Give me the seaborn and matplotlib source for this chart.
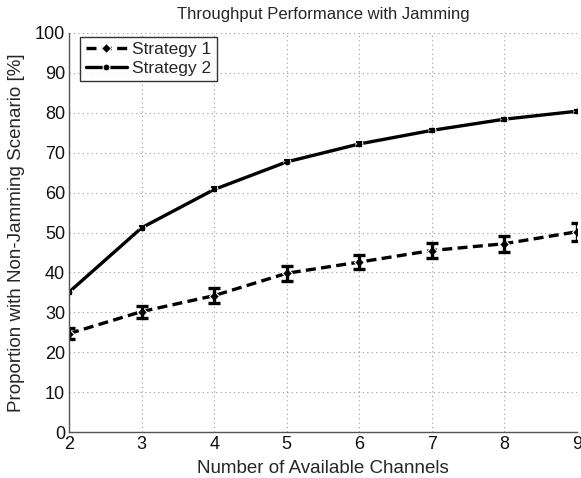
import matplotlib
matplotlib.use("Agg")
import matplotlib.pyplot as plt
import seaborn as sns
import pandas as pd

channels = [2, 3, 4, 5, 6, 7, 8, 9]
strategy1 = [24.7, 30.2, 34.2, 39.8, 42.6, 45.5, 47.2, 50.2]
strategy1_err = [1.3, 1.5, 1.8, 1.9, 1.8, 2.0, 2.0, 2.2]
strategy2 = [35.1, 51.2, 60.8, 67.7, 72.2, 75.6, 78.4, 80.4]
strategy2_err = [0.4, 0.5, 0.5, 0.4, 0.4, 0.4, 0.4, 0.4]
x_ticks = list(range(2, 10))
y_ticks = list(range(0, 101, 10))

sns.set_style("white")
plt.rcParams["font.family"] = ["Liberation Sans", "DejaVu Sans"]

df = pd.DataFrame({
    "channels": channels * 2,
    "value": strategy1 + strategy2,
    "strategy": ["Strategy 1"] * len(channels) + ["Strategy 2"] * len(channels),
})

fig = plt.figure(figsize=(5.81, 4.78), dpi=100)
ax = fig.add_axes([0.119, 0.096, 0.874, 0.835])

sns.lineplot(data=df, x="channels", y="value", hue="strategy", style="strategy",
             palette=["black", "black"], dashes={"Strategy 1": (3, 1.6), "Strategy 2": ""},
             markers={"Strategy 1": "D", "Strategy 2": "o"}, markersize=5,
             markeredgewidth=0.8, linewidth=2.4, ax=ax, legend=True)

ax.errorbar(channels, strategy1, yerr=strategy1_err, fmt="none", ecolor="black",
            elinewidth=2.4, capsize=4.5, capthick=2.4)
ax.errorbar(channels, strategy2, yerr=strategy2_err, fmt="none", ecolor="black",
            elinewidth=1.5, capsize=2, capthick=1.5)

ax.set_xlim(2, 9)
ax.set_ylim(0, 100)
ax.set_xticks(x_ticks)
ax.set_yticks(y_ticks)
ax.tick_params(direction="in", length=4, width=0.8, labelsize=13, pad=3,
               color="#444444", labelcolor="#111111")
ax.grid(True, linestyle=(0, (1, 3)), color="#999999", linewidth=0.8)
for side in ["top", "right"]:
    ax.spines[side].set_visible(False)
for side in ["left", "bottom"]:
    ax.spines[side].set_color("#555555")
    ax.spines[side].set_linewidth(1.0)

ax.set_title("Throughput Performance with Jamming", fontsize=12, pad=10)
ax.set_xlabel("Number of Available Channels", fontsize=13.5, labelpad=5)
ax.set_ylabel("Proportion with Non-Jamming Scenario [%]", fontsize=13.5, labelpad=7)

leg = ax.legend(loc="upper left", bbox_to_anchor=(0.022, 0.99), fontsize=12.5,
                frameon=True, fancybox=False, edgecolor="black", handlelength=2.4,
                handletextpad=0.3, borderpad=0.3, labelspacing=0.2, borderaxespad=0.0)
leg.get_frame().set_linewidth(1.0)
leg.set_title(None)

fig.savefig("out.png", dpi=100)
